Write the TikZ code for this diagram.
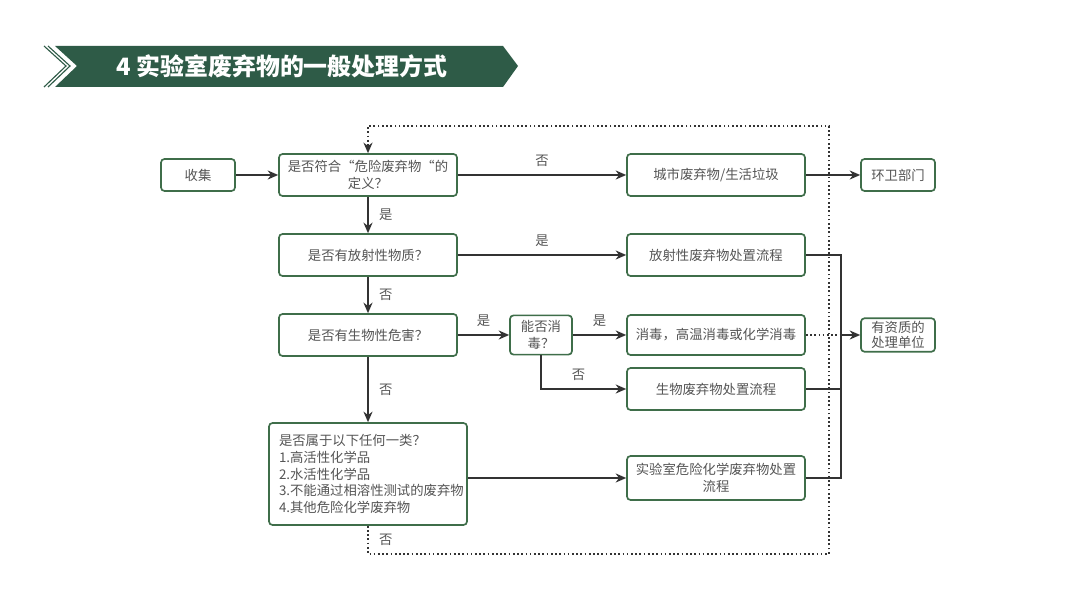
\documentclass[tikz,border=0pt]{standalone}
\usepackage{fontspec}
\setmainfont{Noto Sans CJK SC}
\usetikzlibrary{positioning, arrows.meta}
\definecolor{boxgreen}{HTML}{3F6E4A}
\definecolor{bannergreen}{HTML}{2E5B47}
\definecolor{textgrey}{HTML}{555555}
\definecolor{linegrey}{HTML}{333333}
\tikzset{
    >={Stealth[length=7.5pt, width=6.5pt]}, % filled arrow heads
    box/.style={draw=boxgreen, line width=1.2pt, rounded corners=2.5pt, fill=white, text=textgrey,
        minimum width=4.45cm, minimum height=1.05cm, align=center, inner sep=2pt,
        font=\fontsize{9.5}{12}\selectfont}, % the usual step of the chart
    smallbox/.style={box, minimum width=1.85cm, minimum height=0.8cm}, % end points
    line/.style={draw=linegrey, line width=1pt},
    arrow/.style={line, ->},
    dotline/.style={line, line width=1.2pt, dash pattern=on 1.2pt off 1.8pt},
    lbl/.style={text=textgrey, font=\fontsize{9.5}{12}\selectfont},
}

\begin{document}
\begin{tikzpicture}
    \useasboundingbox (0,0) rectangle (27,15.075);
    % title banner
    \fill[bannergreen] (1.375,13.925) -- (12.575,13.925) -- (12.95,13.425) -- (12.575,12.9)
        -- (1.375,12.9) -- (1.925,13.425) -- cycle;
    \draw[bannergreen, line width=0.8pt] (1.1,13.925) -- (1.65,13.425) -- (1.1,12.9);
    \draw[bannergreen, line width=0.8pt] (1.2,13.925) -- (1.75,13.425) -- (1.2,12.9);
    \node[text=white, font=\fontsize{17}{20}\selectfont\bfseries] (title) at (7.05,13.425) {4 实验室废弃物的一般处理方式};

    % left column of questions
    \node[box] (def) at (9.2,10.7) {是否符合“危险废弃物“的\\定义？};
    \node[box, below of=def, node distance=2cm] (rad) {是否有放射性物质？};
    \node[box, below of=rad, node distance=2cm] (bio) {是否有生物性危害？};
    \node[box, below of=bio, node distance=3.475cm, minimum width=4.95cm, minimum height=2.55cm,
        text width=4.45cm, align=left] (chem) {是否属于以下任何一类？\\1.高活性化学品\\2.水活性化学品\\3.不能通过相溶性测试的废弃物\\4.其他危险化学废弃物};
    \node[smallbox, left of=def, node distance=4.25cm] (collect) {收集};

    % right column of outcomes
    \node[box, right of=def, node distance=8.7cm] (city) {城市废弃物/生活垃圾};
    \node[box, right of=rad, node distance=8.7cm] (radproc) {放射性废弃物处置流程};
    \node[box, right of=bio, node distance=8.7cm, minimum height=1cm] (disinfect) {消毒，高温消毒或化学消毒};
    \node[box, below of=disinfect, node distance=1.35cm] (bioproc) {生物废弃物处置流程};
    \node[box, right of=chem, node distance=8.7cm, yshift=-0.1cm, minimum height=1.1cm] (chemproc) {实验室危险化学废弃物处置\\流程};
    \node[box, right of=bio, node distance=4.325cm, minimum width=1.55cm, minimum height=0.98cm] (canfix) {能否消\\毒？};
    \node[smallbox, right of=city, node distance=4.55cm] (sanit) {环卫部门};
    \node[smallbox, right of=disinfect, node distance=4.55cm, font=\fontsize{9.5}{11}\selectfont] (unit) {有资质的\\处理单位};
    \coordinate[left=0.475cm of unit.west] (bus);

    \draw[arrow] (collect) -- (def);
    \draw[arrow] (def) -- node[lbl, above=2pt] {否} (city);
    \draw[arrow] (city) -- (sanit);
    \draw[arrow] (def) -- node[lbl, right=4pt] {是} (rad);
    \draw[arrow] (rad) -- node[lbl, above=2pt] {是} (radproc);
    \draw[arrow] (rad) -- node[lbl, right=4pt] {否} (bio);
    \draw[arrow] (bio) -- node[lbl, above=2pt] {是} (canfix);
    \draw[arrow] (canfix) -- node[lbl, above=2pt] {是} (disinfect);
    \draw[arrow] (canfix.south) |- node[lbl, pos=0.72, above=2pt] {否} (bioproc.west);
    \draw[arrow] (bio) -- node[lbl, right=4pt] {否} (chem);
    \draw[arrow] (chem.east |- chemproc.west) -- (chemproc.west);

    % collecting line on the right
    \draw[line] (radproc.east) -| (bus);
    \draw[line] (bioproc.east) -| (bus);
    \draw[line] (chemproc.east) -| (bus);
    \draw[dotline] (disinfect.east) -- (bus);
    \draw[arrow] (bus) -- (unit.west);

    % back to the first question
    \draw[dotline, ->] (chem.south) -- ++(0,-0.7) node[lbl, midway, right=4pt] {否}
        -| (20.725,11.925) -| (def.north);
\end{tikzpicture}
\end{document}
